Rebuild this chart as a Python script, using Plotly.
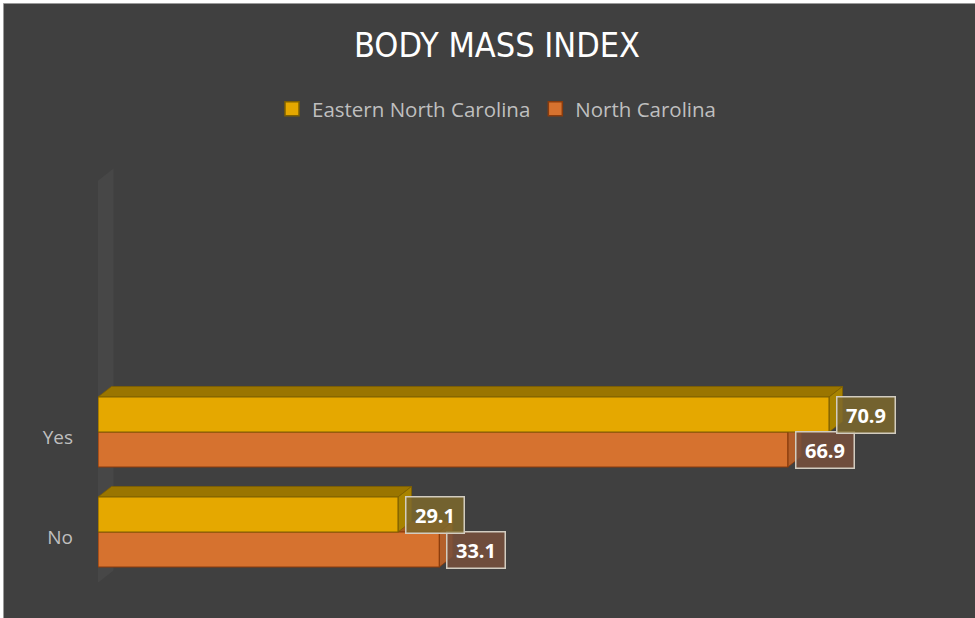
import plotly.graph_objects as go

# ---------------- data ----------------
categories = ["No", "Yes"]
eastern_nc = [29.1, 70.9]
north_carolina = [33.1, 66.9]
series_names = ["Eastern North Carolina", "North Carolina"]
title_text = "BODY MASS INDEX"

# ---------------- layout constants ----------------
W, H = 975, 618
ML, MR, MT, MB = 98, 15, 167, 36
XMAX = 83.6
YMIN, YMAX = -0.5, 3.65
plot_w = W - ML - MR
plot_h = H - MT - MB
px_x = plot_w / XMAX
px_y = plot_h / (YMAX - YMIN)
DX = 13.5 / px_x      # 3-D depth (x)
DY = 10.5 / px_y      # 3-D depth (y)
BW = 0.35             # bar thickness (category units)

BG = "#404040"
TXT = "#bfbfbf"
FONT = "Open Sans, Lato, sans-serif"

ypos = list(range(len(categories)))


def px2xp(px):
    return (px - ML) / plot_w


def py2yp(py):
    return (H - MB - py) / plot_h


def top_face(vals, base):
    xs, ys = [], []
    for i, v in enumerate(vals):
        y0 = ypos[i] + base + BW
        xs += [0, v, v + DX, DX, 0, None]
        ys += [y0, y0, y0 + DY, y0 + DY, y0, None]
    return xs, ys


def side_face(vals, base):
    xs, ys = [], []
    for i, v in enumerate(vals):
        yb = ypos[i] + base
        xs += [v, v, v + DX, v + DX, v, None]
        ys += [yb, yb + BW, yb + BW + DY, yb + DY, yb, None]
    return xs, ys


series = [
    # values, name, base offset, front, edge, top, side, label bg, zorder start
    (north_carolina, series_names[1], -BW, "#D6722F", "#8A3B0C", "#A8581F", "#B4602A", "rgba(120,80,60,0.85)", 1),
    (eastern_nc, series_names[0], 0.0, "#E5A800", "#7F6000", "#9A7500", "#A88300", "rgba(125,105,45,0.85)", 4),
]

fig = go.Figure()
annotations = []
for vals, name, base, front, edge, topc, sidec, lblbg, z in series:
    tx, ty = top_face(vals, base)
    fig.add_trace(go.Scatter(x=tx, y=ty, mode="lines", fill="toself", fillcolor=topc,
                             line=dict(color=edge, width=0.8), hoverinfo="skip",
                             showlegend=False, zorder=z))
    sx, sy = side_face(vals, base)
    fig.add_trace(go.Scatter(x=sx, y=sy, mode="lines", fill="toself", fillcolor=sidec,
                             line=dict(color=edge, width=0.8), hoverinfo="skip",
                             showlegend=False, zorder=z + 1))
    fig.add_trace(go.Bar(y=ypos, x=vals, orientation="h", name=name, offset=base, width=BW,
                         marker=dict(color=front, line=dict(color=edge, width=1.2)),
                         showlegend=False, zorder=z + 2))
    # legend entry (square swatch)
    fig.add_trace(go.Scatter(x=[None], y=[None], mode="markers", name=name,
                             marker=dict(symbol="square", size=14, color=front,
                                         line=dict(color=edge, width=1.5)),
                             showlegend=True))
    for i, v in enumerate(vals):
        annotations.append(dict(
            x=v, y=ypos[i] + base + BW / 2, xref="x", yref="y",
            text=f"{v:.1f}", showarrow=False, xanchor="left", yanchor="middle",
            xshift=7, font=dict(family=FONT, size=20, color="white", weight=700),
            bgcolor=lblbg, bordercolor="#d2ccc0", borderwidth=1.5,
            width=55, height=33, borderpad=1, align="center"))

shapes = [
    # left back wall
    dict(type="path", xref="x", yref="y", layer="below",
         path=(f"M {-3/px_x},{YMIN - 3/px_y} L {-3/px_x},{YMAX - 16/px_y} "
               f"L {-3/px_x + DX + 5/px_x},{YMAX - 16/px_y + DY + 4/px_y} "
               f"L {-3/px_x + DX + 5/px_x},{YMIN - 3/px_y + DY + 4/px_y} Z"),
         fillcolor="#474747", line=dict(width=0)),
    # white page strips (top, left)
    dict(type="rect", xref="paper", yref="paper", x0=px2xp(-2), x1=px2xp(W + 2),
         y0=py2yp(3.5), y1=py2yp(-2), fillcolor="white", line=dict(width=0), layer="above"),
    dict(type="rect", xref="paper", yref="paper", x0=px2xp(-2), x1=px2xp(3.5),
         y0=py2yp(H + 2), y1=py2yp(-2), fillcolor="white", line=dict(width=0), layer="above"),
    dict(type="line", xref="paper", yref="paper", x0=px2xp(3.5), x1=px2xp(W + 2),
         y0=py2yp(3.5), y1=py2yp(3.5), line=dict(color="#9a9a9a", width=1), layer="above"),
    dict(type="line", xref="paper", yref="paper", x0=px2xp(3.5), x1=px2xp(3.5),
         y0=py2yp(H + 2), y1=py2yp(3.5), line=dict(color="#9a9a9a", width=1), layer="above"),
]

fig.update_layout(
    width=W, height=H,
    margin=dict(l=ML, r=MR, t=MT, b=MB),
    paper_bgcolor=BG, plot_bgcolor=BG,
    barmode="overlay",
    title=dict(text=title_text, x=497 / W, xanchor="center", xref="container",
               y=1 - 45 / H, yanchor="middle", yref="container",
               font=dict(family="Liberation Sans Narrow, DejaVu Sans Condensed, Roboto Condensed, Liberation Sans, sans-serif",
                         size=34, color="white")),
    legend=dict(orientation="h", xref="container", yref="container",
                x=497 / W, xanchor="center", y=1 - 89 / H, yanchor="top",
                font=dict(family=FONT, size=20.5, color=TXT), bgcolor="rgba(0,0,0,0)",
                traceorder="reversed", itemsizing="trace"),
    xaxis=dict(range=[0, XMAX], visible=False, showgrid=False, zeroline=False),
    yaxis=dict(range=[YMIN, YMAX], tickvals=ypos, ticktext=categories,
               showgrid=False, zeroline=False, showline=False, ticks="",
               ticklabelstandoff=24, ticklabelshift=5,
               tickfont=dict(family=FONT, size=19, color=TXT)),
    annotations=annotations,
    shapes=shapes,
    showlegend=True,
)

post = (
    "document.body.style.margin='0px';document.body.style.padding='0px';"
    "var t=document.querySelectorAll('.gtitle');"
    "t.forEach(function(e){e.style.fontStretch='condensed';});"
)
fig.write_html("out.html", post_script=post, config={"displayModeBar": False})
